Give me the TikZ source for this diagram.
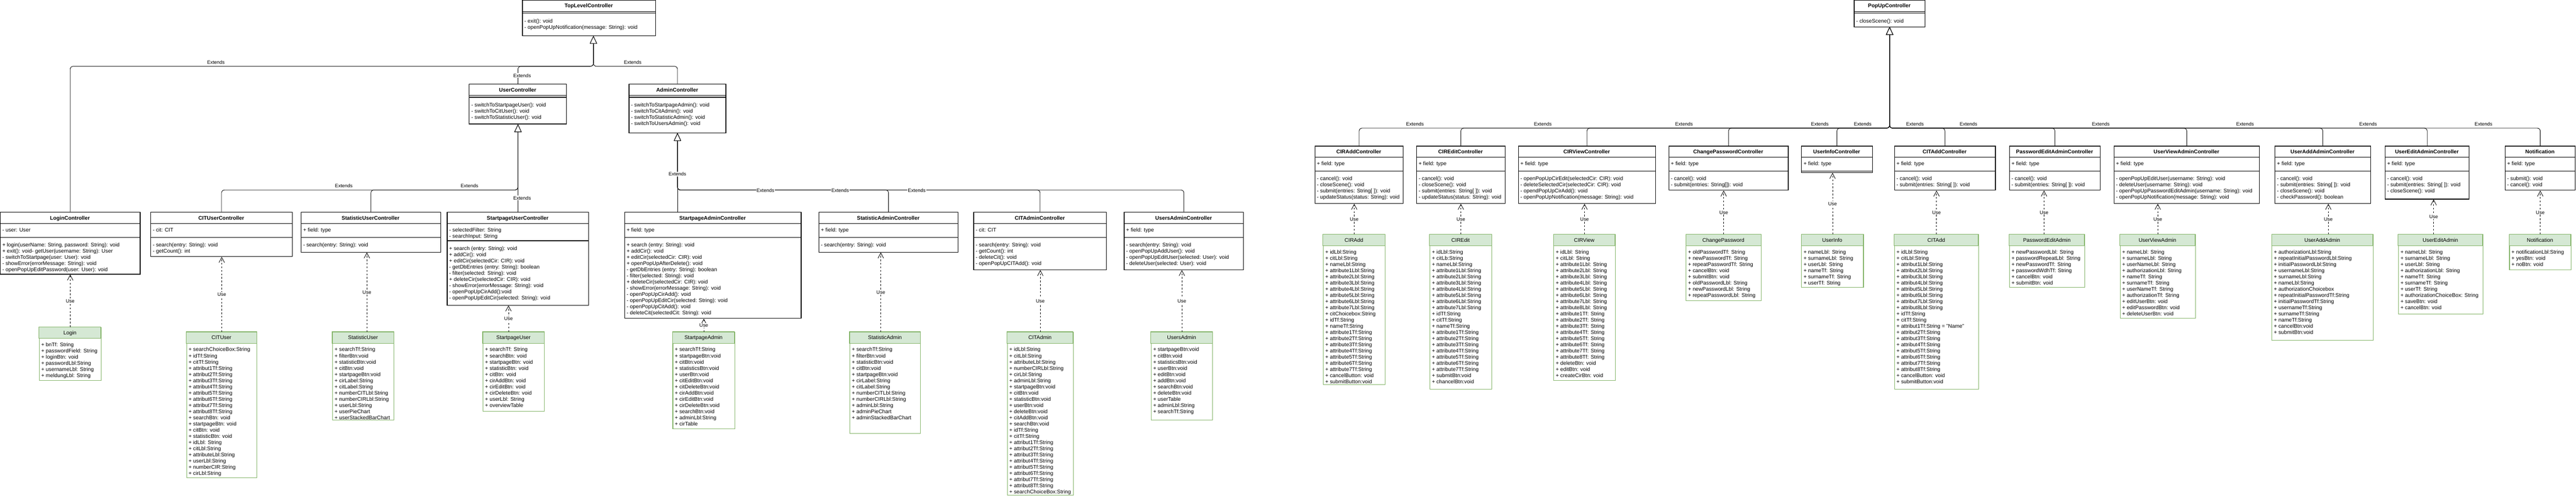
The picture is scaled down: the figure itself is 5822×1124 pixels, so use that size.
\documentclass[tikz,border=0pt]{standalone}
\usepackage{fontspec}
\setmainfont{Liberation Sans}
\usetikzlibrary{arrows.meta,calc}

\definecolor{viewgreen}{HTML}{82B366}
\definecolor{viewfill}{HTML}{D5E8D4}
\newcommand{\umlfont}{\fontsize{9}{10.5}\selectfont}
\newcommand{\lblfont}{\fontsize{8.25}{10}\selectfont}

% controller class: name, x, y, width, height, title, separator, fields, methods
\newcommand{\ctrlclass}[9]{%
  \node[ctrlbox, minimum width=#4*0.75pt, minimum height=#5*0.75pt] (#1) at (#2,#3) {};
  \node[ctrltitle] (#1-t) at (#2+#4/2,#3+13) {#6};
  \draw[line width=1pt] (#2,#3+26) -- ++(#4,0);
  \draw[line width=1pt] (#2,#3+#7) -- ++(#4,0);
  \node[fieldtext] (#1-a) at (#2+5,#3+34.2) {\strut #8};
  \node[fieldtext] (#1-m) at (#2+5,#3+#7+11.2) {\strut #9};
}
% view class (green): name, x, y, width, height, title, fields
\newcommand{\uiview}[7]{%
  \node[viewbox, minimum width=#4*0.75pt, minimum height=#5*0.75pt] (#1) at (#2,#3) {};
  \draw[viewhead] (#2,#3) rectangle ++(#4,26);
  \node[viewtitle] (#1-t) at (#2+#4/2,#3+13) {#6};
  \node[fieldtext] (#1-a) at (#2+5,#3+34.2) {\strut #7};
}

\begin{document}
\begin{tikzpicture}[x=0.75pt, y=-0.75pt, font=\umlfont,
  ctrlbox/.style={draw, line width=1pt, fill=white, anchor=north west, inner sep=0pt},
  ctrltitle/.style={font=\umlfont\bfseries, text height=6.5pt, text depth=0pt, inner sep=0pt},
  viewbox/.style={draw=viewgreen, line width=1pt, fill=white, anchor=north west, inner sep=0pt},
  viewhead/.style={draw=viewgreen, line width=1pt, fill=viewfill},
  viewtitle/.style={text height=6.5pt, text depth=0pt, inner sep=0pt},
  fieldtext/.style={anchor=north west, align=left, inner sep=0pt},
  ext/.style={line width=.75pt, rounded corners=5pt, -{Triangle[length=13pt, width=12pt, fill=white]}},
  use/.style={line width=.75pt, dash pattern=on 3pt off 3pt, -{Straight Barb[length=9pt, width=9.5pt]}},
  uselbl/.style={fill=white, inner sep=1pt, font=\lblfont, text height=6pt, text depth=0pt},
  extlbl/.style={fill=white, inner sep=1pt, font=\lblfont, text height=6pt, text depth=0pt}]
\useasboundingbox (0,0) rectangle (5822,1124);
\fill[white] (0,0) rectangle (5822,1124);

% top level controllers
\ctrlclass{TopLevel}{1180}{0}{301}{80}{TopLevelController}{30}{}{- exit(): void\\ - openPopUpNotification(message: String): void}
\ctrlclass{PopUp}{4190}{0}{160}{60}{PopUpController}{30}{}{- closeScene(): void}
\ctrlclass{UserCtrl}{1060}{190}{220}{90}{UserController}{30}{}{- switchToStartpageUser(): void\\ - switchToCitUser(): void\\ - switchToStatisticUser(): void}
\ctrlclass{AdminCtrl}{1421}{190}{219}{110}{AdminController}{30}{}{- switchToStartpageAdmin(): void\\ - switchToCitAdmin(): void\\ - switchToStatisticAdmin(): void\\ - switchToUsersAdmin(): void}

% user and admin controllers
\ctrlclass{LoginCtrl}{0}{480}{316}{140}{LoginController}{57}{- user: User}{+ login(userName: String, password: String): void\\ + exit(): void- getUser(username: String): User\\ - switchToStartpage(user: User): void\\ - showError(errorMessage: String): void\\ - openPopUpEditPassword(user: User): void}
\ctrlclass{CITUserCtrl}{340}{480}{320}{100}{CITUserController}{57}{- cit: CIT}{- search(entry: String): void\\ - getCount(): int}
\ctrlclass{StatUserCtrl}{680}{480}{315}{90}{StatisticUserController}{57}{+ field: type}{- search(entry: String): void}
\ctrlclass{StartUserCtrl}{1010}{480}{320}{210}{StartpageUserController}{65}{- selectedFilter: String\\ - searchInput: String}{+ search (entry: String): void\\ + addCir(): void\\ + editCir(selectedCir: CIR): void\\ - getDbEntries (entry: String): boolean\\ - filter(selected: String): void\\ + deleteCir(selectedCir: CIR): void\\ - showError(errorMessage: String): void\\ - openPopUpCirAdd():void\\ - openPopUpEditCir(selected: String): void}
\ctrlclass{StartAdminCtrl}{1411}{480}{399}{240}{StartpageAdminController}{57}{+ field: type}{+ search (entry: String): void\\ + addCir(): void\\ + editCir(selectedCir: CIR): void\\ + openPopUpAfterDelete(): void\\ - getDbEntries (entry: String): boolean\\ - filter(selected: String): void\\ + deleteCir(selectedCir: CIR): void\\ - showError(errorMessage: String): void\\ - openPopUpCirAdd(): void\\ - openPopUpEditCir(selected: String): void\\ - openPopUpCitAdd(): void\\ - deleteCit(selectedCit: String): void}
\ctrlclass{StatAdminCtrl}{1850}{480}{315}{90}{StatisticAdminController}{57}{+ field: type}{- search(entry: String): void}
\ctrlclass{CITAdminCtrl}{2200}{480}{300}{130}{CITAdminController}{57}{- cit: CIT}{- search(entry: String): void\\ - getCount(): int\\ - deleteCit(): void\\ - openPopUpCITAdd(): void}
\ctrlclass{UsersAdminCtrl}{2540}{480}{270}{130}{UsersAdminController}{57}{+ field: type}{- search(entry: String): void\\ - openPopUpAddUser(): void\\ - openPopUpEditUser(selected: User): void\\ - deleteUser(selected: User): void}

% popup controllers
\ctrlclass{CIRAddCtrl}{2971}{330}{200}{130}{CIRAddController}{57}{+ field: type}{- cancel(): void\\ - closeScene(): void\\ - submit(entries: String[ ]): void\\ - updateStatus(status: String): void}
\ctrlclass{CIREditCtrl}{3201}{330}{200}{130}{CIREditController}{57}{+ field: type}{- cancel(): void\\ - closeScene(): void\\ - submit(entries: String[ ]): void\\ - updateStatus(status: String): void}
\ctrlclass{CIRViewCtrl}{3431}{330}{310}{130}{CIRViewController}{57}{+ field: type}{- openPopUpCirEdit(selectedCir: CIR): void\\ - deleteSelectedCir(selectedCir: CIR): void\\ - opendPopUpCirAdd(): void\\ - openPopUpNotification(message: String): void}
\ctrlclass{ChangePwCtrl}{3771}{330}{270}{100}{ChangePasswordController}{57}{+ field: type}{- cancel(): void\\ - submit(entries: String[]): void}
\ctrlclass{UserInfoCtrl}{4071}{330}{160}{60}{UserInfoController}{57}{+ field: type}{}
\ctrlclass{CITAddCtrl}{4281}{330}{228}{100}{CITAddController}{57}{+ field: type}{- cancel(): void\\ - submit(entries: String[ ]): void}
\ctrlclass{PwEditAdminCtrl}{4541}{330}{205}{100}{PasswordEditAdminController}{57}{+ field: type}{- cancel(): void\\ - submit(entries: String[ ]): void}
\ctrlclass{UserViewAdminCtrl}{4777}{330}{329}{130}{UserViewAdminController}{57}{+ field: type}{- openPopUpEditUser(username: String): void\\ - deleteUser(username: String): void\\ - openPopUpPasswordEditAdmin(username: String): void\\ - openPopUpNotification(message: String): void}
\ctrlclass{UserAddAdminCtrl}{5141}{330}{216}{130}{UserAddAdminController}{57}{+ field: type}{- cancel(): void\\ - submit(entries: String[ ]): void\\ - closeScene(): void\\ - checkPassword(): boolean}
\ctrlclass{UserEditAdminCtrl}{5390}{330}{190}{120}{UserEditAdminController}{57}{+ field: type}{- cancel(): void\\ - submit(entries: String[ ]): void\\ - closeScene(): void}
\ctrlclass{NotificationCtrl}{5661}{330}{159}{100}{Notification}{57}{+ field: type}{- submit(): void\\ - cancel(): void}

% views
\uiview{Login}{88}{740}{140}{120}{Login}{+ bnTf: String\\ + passwordField: String\\ + loginBtn: void\\ + passwordLbl:String\\ + usernameLbl: String\\ + meldungLbl: String}
\uiview{CITUser}{421}{751}{159}{329}{CITUser}{+ searchChoiceBox:String\\ + idTf:String\\ + citTf:String\\ + attribut1Tf:String\\ + attribut2Tf:String\\ + attribut3Tf:String\\ + attribut4Tf:String\\ + attribut5Tf:String\\ + attribut6Tf:String\\ + attribut7Tf:String\\ + attribut8Tf:String\\ + searchBtn: void\\ + startpageBtn: void\\ + citBtn: void\\ + statisticBtn: void\\ + idLbl: String\\ + citLbl:String\\ + attributeLbl:String\\ + userLbl:String\\ + numberCIR:String\\ + cirLbl:String}
\uiview{StatUser}{751}{751}{139}{199}{StatisticUser}{+ searchTf:String\\ + filterBtn:void\\ + statisticBtn:void\\ + citBtn:void\\ + startpageBtn:void\\ + cirLabel:String\\ + citLabel:String\\ + numberCITLbl:String\\ + numberCIRLbl:String\\ + userLbl:String\\ + userPieChart\\ + userStackedBarChart}
\uiview{StartUser}{1091}{751}{139}{179}{StartpageUser}{+ searchTf: String\\ + searchBtn: void\\ + startpageBtn: void\\ + statisticBtn: void\\ + citBtn: void\\ + cirAddBtn: void\\ + cirEditBtn: void\\ + cirDeleteBtn: void\\ + userLbl: String\\ + overviewTable}
\uiview{StartAdmin}{1520}{751}{140}{219}{StartpageAdmin}{+ searchTf:String\\ + startpageBtn:void\\ + citBtn:void\\ + statisticsBtn:void\\ + userBtn:void\\ + citEditBtn:void\\ + citDeleteBtn:void\\ + cirAddBtn:void\\ + cirEditBtn:void\\ + cirDeleteBtn:void\\ + searchBtn:void\\ + adminLbl:String\\ + cirTable}
\uiview{StatAdmin}{1920}{751}{160}{229}{StatisticAdmin}{+ searchTf:String\\ + filterBtn:void\\ + statisticBtn:void\\ + citBtn:void\\ + startpageBtn:void\\ + cirLabel:String\\ + citLabel:String\\ + numberCITLbl:String\\ + numberCIRLbl:String\\ + adminLbl:String\\ + adminPieChart\\ + adminStackedBarChart}
\uiview{CITAdmin}{2276}{751}{149}{369}{CITAdmin}{+ idLbl:String\\ + citLbl:String\\ + attributeLbl:String\\ + numberCIRLbl:String\\ + cirLbl:String\\ + adminLbl:String\\ + startpageBtn:void\\ + citBtn:void\\ + statisticBtn:void\\ + userBtn:void\\ + deleteBtn:void\\ + citAddBtn:void\\ + searchBtn:void\\ + idTf:String\\ + citTf:String\\ + attribut1Tf:String\\ + attribut2Tf:String\\ + attribut3Tf:String\\ + attribut4Tf:String\\ + attribut5Tf:String\\ + attribut6Tf:String\\ + attribut7Tf:String\\ + attribut8Tf:String\\ + searchChoiceBox:String}
\uiview{UsersAdmin}{2601}{751}{139}{199}{UsersAdmin}{+ startpageBtn:void\\ + citBtn:void\\ + statisticsBtn:void\\ + userBtn:void\\ + editBtn:void\\ + addBtn:void\\ + searchBtn:void\\ + deleteBtn:void\\ + userTable\\ + adminLbl:String\\ + searchTf:String}
\uiview{CIRAdd}{2990}{530}{140}{340}{CIRAdd}{+ idLbl:String\\ + citLbl:String\\ + nameLbl:String\\ + attribute1Lbl:String\\ + attribute2Lbl:String\\ + attribute3Lbl:String\\ + attribute4Lbl:String\\ + attribute5Lbl:String\\ + attribute6Lbl:String\\ + attribute7Lbl:String\\ + citChoicebox:String\\ + idTf:String\\ + nameTf:String\\ + attribute1Tf:String\\ + attribute2Tf:String\\ + attribute3Tf:String\\ + attribute4Tf:String\\ + attribute5Tf:String\\ + attribute6Tf:String\\ + attribute7Tf:String\\ + cancelButton: void\\ + submitButton:void}
\uiview{CIREdit}{3231}{530}{140}{350}{CIREdit}{+ idLbl:String\\ + citLb:String\\ + nameLbl:String\\ + attribute1Lbl:String\\ + attribute2Lbl:String\\ + attribute3Lbl:String\\ + attribute4Lbl:String\\ + attribute5Lbl:String\\ + attribute6Lbl:String\\ + attribute7Lbl:String\\ + idTf:String\\ + citTf:String\\ + nameTf:String\\ + attribute1Tf:String\\ + attribute2Tf:String\\ + attribute3Tf:String\\ + attribute4Tf:String\\ + attribute5Tf:String\\ + attribute6Tf:String\\ + attribute7Tf:String\\ + submitBtn:void\\ + chancelBtn:void}
\uiview{CIRView}{3511}{530}{139}{330}{CIRView}{+ idLbl: String\\ + citLbl: String\\ + attribute1Lbl: String\\ + attribute2Lbl: String\\ + attribute3Lbl: String\\ + attribute4Lbl: String\\ + attribute5Lbl: String\\ + attribute6Lbl: String\\ + attribute7Lbl: String\\ + attribute8Lbl: String\\ + attribute1Tf: String\\ + attribute2Tf: String\\ + attribute3Tf: String\\ + attribute4Tf: String\\ + attribute5Tf: String\\ + attribute6Tf: String\\ + attribute7Tf: String\\ + attribute8Tf: String\\ + deleteBtn: void\\ + editBtn: void\\ + createCirBtn: void}
\uiview{ChangePw}{3810}{530}{170}{150}{ChangePassword}{+ oldPasswordTf: String\\ + newPasswordTf: String\\ + repeatPasswordTf: String\\ + cancelBtn: void\\ + submitBtn: void\\ + oldPasswordLbl: String\\ + newPasswordLbl: String\\ + repeatPasswordLbl: String}
\uiview{UserInfo}{4071}{530}{140}{120}{UserInfo}{+ nameLbl: String\\ + surnameLbl: String\\ + userLbl: String\\ + nameTf: String\\ + surnameTf: String\\ + userTf: String}
\uiview{CITAdd}{4281}{530}{190}{350}{CITAdd}{+ idLbl:String\\ + citLbl:String\\ + attribut1Lbl:String\\ + attribut2Lbl:String\\ + attribut3Lbl:String\\ + attribut4Lbl:String\\ + attribut5Lbl:String\\ + attribut6Lbl:String\\ + attribut7Lbl:String\\ + attribut8Lbl:String\\ + idTf:String\\ + citTf:String\\ + attribut1Tf:String = "Name"\\ + attribut2Tf:String\\ + attribut3Tf:String\\ + attribut4Tf:String\\ + attribut5Tf:String\\ + attribut6Tf:String\\ + attribut7Tf:String\\ + attribut8Tf:String\\ + cancelButton: void\\ + submitButton:void}
\uiview{PwEditAdmin}{4541}{530}{170}{120}{PasswordEditAdmin}{+ newPasswordLbl: String\\ + passwordRepeatLbl: String\\ + newPasswordTf: String\\ + passwordWdhTf: String\\ + cancelBtn: void\\ + submitBtn: void}
\uiview{UserViewAdmin}{4791}{530}{170}{190}{UserViewAdmin}{+ nameLbl: String\\ + surnameLbl: String\\ + userNameLbl: String\\ + authorizationLbl: String\\ + nameTf: String\\ + surnameTf: String\\ + userNameTf: String\\ + authorizationTf: String\\ + editUserBtn: void\\ + editPasswordBtn: void\\ + deleteUserBtn: void}
\uiview{UserAddAdmin}{5134}{530}{229}{240}{UserAddAdmin}{+ authorizationLbl:String\\ + repeatInitialPasswordLbl:String\\ + initialPasswordLbl:String\\ + usernameLbl:String\\ + surnameLbl:String\\ + nameLbl:String\\ + authorizationChoicebox\\ + repeatInitialPasswordTf:String\\ + initialPasswordTf:String\\ + usernameTf:String\\ + surnameTf:String\\ + nameTf:String\\ + cancelBtn:void\\ + submitBtn:void}
\uiview{UserEditAdmin}{5420}{530}{191}{180}{UserEditAdmin}{+ nameLbl: String\\ + surnameLbl: String\\ + userLbl: String\\ + authorizationLbl: String\\ + nameTf: String\\ + surnameTf: String\\ + userTf: String\\ + authorizationChoiceBox: String\\ + saveBtn: void\\ + cancelBtn: void}
\uiview{NotificationView}{5671}{530}{139}{80}{Notification}{+ notificationLbl:String\\ + yesBtn: void\\ + noBtn: void}

% extends
\coordinate (tlIn) at ($(TopLevel.south)+(10,0)$);
\coordinate (tlBus) at (tlIn |- 0,150);
\foreach \c in {LoginCtrl, UserCtrl, AdminCtrl}
  \draw[ext] (\c.north) |- (tlBus) -- (tlIn);
\coordinate (ucBus) at (UserCtrl.south |- 0,430);
\foreach \c in {CITUserCtrl, StatUserCtrl}
  \draw[ext] (\c.north) |- (ucBus) -- (UserCtrl.south);
\draw[ext] (StartUserCtrl.north) -- (UserCtrl.south);
\coordinate (acBus) at (AdminCtrl.south |- 0,430);
\foreach \c in {StatAdminCtrl, CITAdminCtrl, UsersAdminCtrl}
  \draw[ext] (\c.north) |- (acBus) -- (AdminCtrl.south);
\draw[ext] (AdminCtrl.south |- StartAdminCtrl.north) -- (AdminCtrl.south);
\coordinate (puBus) at (PopUp.south |- 0,290);
\foreach \c in {CIRAddCtrl, CIREditCtrl, CIRViewCtrl, ChangePwCtrl, UserInfoCtrl, CITAddCtrl, PwEditAdminCtrl, UserViewAdminCtrl, UserAddAdminCtrl, UserEditAdminCtrl, NotificationCtrl}
  \draw[ext] (\c.north) |- (puBus) -- (PopUp.south);

\foreach \x/\y [count=\i] in {488/141, 1430/141, 1180/171, 777/421, 1061/421, 1180/448, 1531/394, 1730/431, 1899/431, 2072/431, 3198/281, 3487/281, 3806/281, 4113/281, 4210/281, 4328/281, 4449/281, 4748/281, 5074/281, 5352/281, 5613/281}
  \node[extlbl] (ext\i) at (\x,\y) {Extends};

% use
\foreach \v/\c/\dx in {Login/LoginCtrl/0, CITUser/CITUserCtrl/0, StatUser/StatUserCtrl/8, StartUser/StartUserCtrl/-12, StartAdmin/StartAdminCtrl/0, StatAdmin/StatAdminCtrl/-10, CITAdmin/CITAdminCtrl/0, UsersAdmin/UsersAdminCtrl/0, CIRAdd/CIRAddCtrl/0, CIREdit/CIREditCtrl/0, CIRView/CIRViewCtrl/0, ChangePw/ChangePwCtrl/0, UserInfo/UserInfoCtrl/0, CITAdd/CITAddCtrl/0, PwEditAdmin/PwEditAdminCtrl/-7, UserViewAdmin/UserViewAdminCtrl/0, UserAddAdmin/UserAddAdminCtrl/13, UserEditAdmin/UserEditAdminCtrl/-16, NotificationView/NotificationCtrl/0}
  \draw[use] ($(\v.north)+(\dx,0)$) -- ($(\v.north |- \c.south)+(\dx,0)$) node[midway, uselbl] {Use};
\end{tikzpicture}
\end{document}
